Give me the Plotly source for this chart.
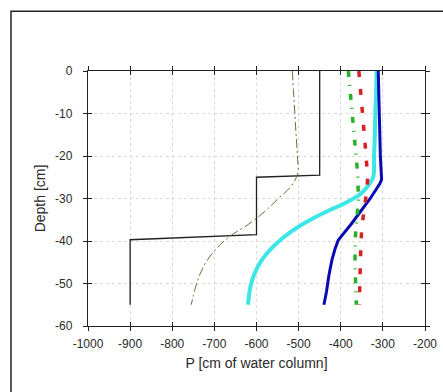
import plotly.graph_objects as go

# Data (P in cm of water column, depth in cm)
black_p = [-450, -450, -600, -600, -900, -900]
black_d = [0, -24.5, -25, -38.5, -39.7, -55]

olive_d = [0, -5, -10, -15, -20, -24, -27, -30, -33, -36, -39, -42, -45, -48, -51, -55]
olive_p = [-515, -512, -509, -506, -503, -502, -517, -548, -580, -618, -665, -697, -720, -735, -745, -755]

cyan_d = [0, -5, -10, -15, -20, -25, -27, -29, -31, -33, -35, -37, -39, -41, -43, -45, -48, -51, -55]
cyan_p = [-315, -316, -318, -319, -321, -323, -335, -354, -388, -432, -472, -506, -534, -557, -576, -591, -606, -615, -620]

blue_d = [0, -10, -20, -25.5, -26.5, -30, -33, -36, -39.8, -42, -44.5, -48, -52, -55]
blue_p = [-311, -309, -306, -303, -307, -330, -352, -375, -406, -414, -421, -428, -434, -440]

red_d = [0, -5, -10, -15, -20, -25, -28, -32, -36, -40, -45, -50, -55]
red_p = [-357, -352, -348, -344, -340, -336, -338, -344, -349, -352, -354, -356, -356]

green_d = [0, -6, -12, -18, -24, -30, -35, -40, -46, -52, -55]
green_p = [-382, -376, -370, -366, -360, -358, -362, -366, -366, -364, -363]

x_ticks = [-1000, -900, -800, -700, -600, -500, -400, -300, -200]
x_labels = ["-1000", "-900", "-800", "-700", "-600", "-500", "-400", "-300", "-200"]
y_ticks = [0, -10, -20, -30, -40, -50, -60]
y_labels = ["0", "-10", "-20", "-30", "-40", "-50", "-60"]

fig = go.Figure()
fig.add_trace(go.Scatter(x=black_p, y=black_d, mode="lines",
                         line=dict(color="#202020", width=1.3)))
fig.add_trace(go.Scatter(x=olive_p, y=olive_d, mode="lines", line_shape="spline",
                         line=dict(color="#7a6838", width=1, dash="9px,3px,2px,3px")))
fig.add_trace(go.Scatter(x=cyan_p, y=cyan_d, mode="lines", line_shape="spline",
                         line=dict(color="#3ee6e6", width=4)))
fig.add_trace(go.Scatter(x=blue_p, y=blue_d, mode="lines",
                         line=dict(color="#0a0ab4", width=3)))
fig.add_trace(go.Scatter(x=red_p, y=red_d, mode="lines",
                         line=dict(color="#d82020", width=3.5, dash="6px,12px")))
fig.add_trace(go.Scatter(x=green_p, y=green_d, mode="lines",
                         line=dict(color="#28b028", width=3.5, dash="6px,8px,1px,8px")))

font = dict(family="Liberation Sans, Arial, sans-serif", size=12, color="#2a2a2a")

fig.update_layout(
    width=443, height=392,
    margin=dict(l=88, r=18, t=71, b=66, autoexpand=False),
    paper_bgcolor="white", plot_bgcolor="white",
    showlegend=False,
    font=font,
    xaxis=dict(range=[-1000, -200], tickvals=x_ticks, ticktext=x_labels, ticks="outside", ticklen=4,
               tickcolor="#222", linecolor="#222", linewidth=1.3, mirror="allticks",
               showgrid=True, gridcolor="#dadada", griddash="3px,3px", gridwidth=1,
               zeroline=False, automargin=False,
               title=dict(text="P [cm of water column]", standoff=8),
               ticklabelstandoff=2),
    yaxis=dict(range=[-60, 0], tickvals=y_ticks, ticktext=y_labels, ticks="outside", ticklen=4,
               tickcolor="#222", linecolor="#222", linewidth=1.3, mirror="allticks",
               showgrid=True, gridcolor="#dadada", griddash="3px,3px", gridwidth=1,
               zeroline=False, automargin=False,
               title=dict(text="Depth [cm]", standoff=6),
               ticklabelstandoff=8),
    xaxis2=dict(range=[-1000, -200], tickvals=x_ticks, ticks="inside", ticklen=4,
                tickcolor="#222", overlaying="x", showticklabels=False, showgrid=False,
                zeroline=False, mirror="allticks", showline=False, automargin=False),
    yaxis2=dict(range=[-60, 0], tickvals=y_ticks, ticks="inside", ticklen=4,
                tickcolor="#222", overlaying="y", showticklabels=False, showgrid=False,
                zeroline=False, mirror="allticks", showline=False, automargin=False),
)
# invisible trace to activate the overlay axes (inner tick halves)
fig.add_trace(go.Scatter(x=[None], y=[None], xaxis="x2", yaxis="y2", showlegend=False))

# outer frame (window border)
fig.add_shape(type="rect", xref="paper", yref="paper",
              x0=(11 - 88) / 337, x1=1.2, y0=-0.5, y1=(325.7 - 11) / 255,
              line=dict(color="#222222", width=1.5), layer="below")

fig.write_html("out.html", config={"displayModeBar": False},
               post_script="document.body.style.margin='0';document.body.style.overflow='hidden';")
